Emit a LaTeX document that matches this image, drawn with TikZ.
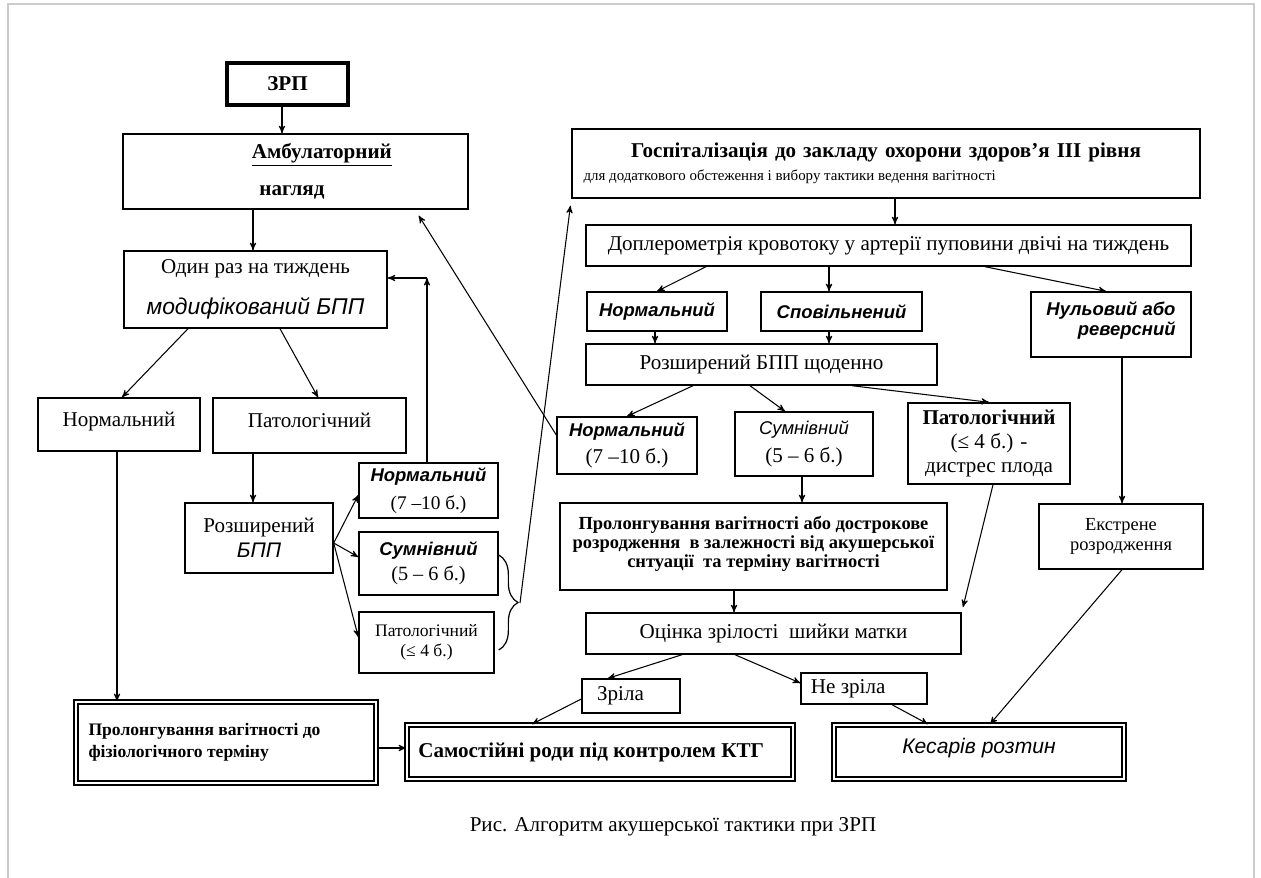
\documentclass[tikz,border=0pt]{standalone}
\usepackage{fontspec}
\setmainfont{Liberation Serif}
\setsansfont{Liberation Sans}
\usetikzlibrary{arrows, calc, decorations.pathreplacing}
\newcommand{\isans}{\sffamily\itshape}
\newcommand{\bisans}{\sffamily\bfseries\itshape}
\newcommand{\fsz}[2]{\fontsize{#1}{#2}\selectfont}
\tikzset{
>=stealth', % small filled arrow heads
box/.style={draw, line width=0.8pt, align=center, inner sep=2pt, font=\rmfamily\fsz{12}{14}}, % every plain box
dbox/.style={box, double, double distance=1.4pt, line width=1pt}, % boxes with a double frame
wh/.style 2 args={minimum width=#1*0.02cm, minimum height=#2*0.02cm}, % box size in pixels
conn/.style={->, line width=0.6pt}, % the connectors
}

\begin{document}
\begin{tikzpicture}[x=0.02cm, y=-0.02cm]
    \useasboundingbox (0,0) rectangle (1261,878);
    \draw[gray!40, line width=1.2pt] (8,878) -- (8,4) -- (1254,4) -- (1254,878);

    % left column
    \node[box, wh={121}{42}, line width=1.8pt, font=\rmfamily\bfseries\fsz{12}{14}] (zrp) at (287.5,84) {ЗРП};
    \node[box, wh={345}{75}, font=\rmfamily\bfseries\fsz{12}{14}] (amb) at (295.5,171.5)
        {\hspace*{30pt}\underline{Амбулаторний}\\[7pt]нагляд\hspace*{4pt}};
    \node[box, wh={263}{77}] (once) at (255.5,289.5)
        {Один раз на тиждень\\[9pt]{\isans\fsz{13}{15}модифікований БПП}};
    \node[box, wh={162}{53}] (normL) at (119,424.5) {Нормальний\\[-8pt]};
    \node[box, wh={193}{55}] (patL) at (309.5,425.5) {Патологічний\\[-8pt]};
    \node[box, wh={148}{70}] (rozL) at (259,538) {Розширений\\{\isans БПП}};
    \node[box, wh={139}{55}, font=\rmfamily\fsz{11}{13}] (n710L) at (428.5,490.5)
        {{\bisans\fsz{10.5}{12}Нормальний}\\[3pt](7 –10 б.)};
    \node[box, wh={139}{63}, font=\rmfamily\fsz{11.5}{13}] (sumL) at (428.5,563.5)
        {{\bisans\fsz{10.5}{12}Сумнівний}\\[1pt](5 – 6 б.)};
    \node[box, wh={135}{61}, font=\rmfamily\fsz{10}{11}] (pat4L) at (426.5,642.5) {Патологічний\\(≤ 4 б.)};
    \node[dbox, wh={300}{81}, text width=5.5cm, align=left, font=\rmfamily\bfseries\fsz{10}{12.5}] (prolL) at (226,742.5)
        {\spaceskip=0pt\xspaceskip=0pt Пролонгування вагітності до\\фізіологічного терміну};

    % right column
    \node[box, wh={628}{69}, text width=12.1cm, align=left] (hosp) at (886,163.5)
        {{\centering\bfseries Госпіталізація до закладу охорони здоров’я ІІІ рівня\par}
         \vspace{3pt}{\raggedright\fsz{8.5}{10}\spaceskip=0pt\xspaceskip=0pt
         для додаткового обстеження і вибору тактики ведення вагітності\par}};
    \node[box, wh={605}{41}] (dopl) at (888.5,245.5) {Доплерометрія кровотоку у артерії пуповини двічі на тиждень};
    \node[box, wh={140}{39}, font=\bisans\fsz{10.5}{12}] (normD) at (657,311.5) {Нормальний};
    \node[box, wh={161}{39}, font=\bisans\fsz{10.5}{12}] (spov) at (841.5,311.5) {Сповільнений};
    \node[box, wh={160}{65}, align=right, font=\bisans\fsz{10.5}{11.5}] (nul) at (1111,324.5)
        {Нульовий або\\реверсний\\[-4.7pt]};
    \node[box, wh={351}{41}] (rozD) at (761.5,364.5) {Розширений БПП щоденно};
    \node[box, wh={140}{57}] (n710R) at (627,445.5)
        {{\bisans\fsz{10.5}{12}Нормальний}\\[1pt](7 –10 б.)};
    \node[box, wh={138}{64}] (sumR) at (804,444)
        {{\isans\fsz{10.5}{12}Сумнівний}\\[2pt](5 – 6 б.)};
    \node[box, wh={162}{81}, font=\rmfamily\fsz{12}{13.5}] (patR) at (989,443.5)
        {{\bfseries Патологічний}\\(≤ 4 б.) -\\дистрес плода};
    \node[box, wh={164}{65}, font=\rmfamily\fsz{10.5}{11.5}] (ekstr) at (1121,536.5) {Екстрене\\розродження};
    \node[box, wh={387}{87}, font=\rmfamily\bfseries\fsz{10.5}{10.8}] (prolR) at (753.5,546.5)
        {Пролонгування вагітності або дострокове\\розродження\ \ в залежності від акушерської\\снтуації\ \ та терміну вагітності\\[-6pt]};
    \node[box, wh={375}{41}] (ocinka) at (773.5,633.5) {Оцінка зрілості\ \ шийки матки};
    \node[box, wh={98}{34}] (zrila) at (631,696) {Зріла\hspace*{12pt}};
    \node[box, wh={126}{31}] (nezrila) at (864,688.5) {Не зріла\hspace*{18pt}};

    % final boxes
    \node[dbox, wh={386}{54}, font=\rmfamily\bfseries\fsz{12}{14}] (samost) at (600,752) {Самостійні роди під контролем КТГ\hspace*{10pt}};
    \node[dbox, wh={290}{54}, font=\isans\fsz{12}{14}] (kesar) at (979,752) {Кесарів розтин\\[-7.2pt]};

    \node[font=\rmfamily\fsz{12}{14}] (cap) at (673,827) {Рис. Алгоритм акушерської тактики при ЗРП};

    % connectors, left part
    \draw[conn] (zrp.south -| 282,0) -- (amb.north -| 282,0);
    \draw[conn] (amb.south -| 253,0) -- (once.north -| 253,0);
    \draw[conn] (once.south -| 188,0) -- (normL.north -| 122,0);
    \draw[conn] (once.south -| 280,0) -- (patL.north -| 318,0);
    \draw[conn] (normL.south -| 117,0) -- (prolL.north -| 117,0);
    \draw[conn] (patL.south -| 253,0) -- (rozL.north -| 253,0);
    \draw[conn] (rozL.east |- 0,543) -- (n710L.west |- 0,495);
    \draw[conn] (rozL.east |- 0,543) -- (sumL.west |- 0,557);
    \draw[conn] (rozL.east |- 0,543) -- (pat4L.west |- 0,637);
    \coordinate (cup) at (427,278);
    \draw[conn] (n710L.north -| 427,0) -- (cup);
    \draw[conn] (cup) -- (once.east |- cup);
    \draw[line width=0.7pt, decorate, decoration={brace, amplitude=11pt}]
        ($(sumL.east)+(0,-8.5)$) -- ($(pat4L.east)+(4,7.5)$);
    \coordinate (brtip) at (520,603);
    \draw[conn, shorten >=4pt] (brtip) -- (hosp.south west);
    \draw[conn, shorten >=4pt] (n710R.west |- 0,435) -- (amb.south -| 415,0);
    \draw[conn] (prolL.east |- 0,748) -- (samost.west |- 0,748);

    % connectors, right part
    \draw[conn] (hosp.south -| 895,0) -- (dopl.north -| 895,0);
    \draw[conn] (dopl.south -| 706,0) -- (normD.north -| 657,0);
    \draw[conn] (dopl.south -| 829,0) -- (spov.north -| 829,0);
    \draw[conn] (dopl.south -| 985,0) -- (nul.north -| 1106,0);
    \draw[conn] (normD.south -| 655,0) -- (rozD.north -| 655,0);
    \draw[conn] (spov.south -| 829,0) -- (rozD.north -| 829,0);
    \draw[conn] (rozD.south -| 693,0) -- (n710R.north -| 627,0);
    \draw[conn] (rozD.south -| 750,0) -- (sumR.north -| 785,0);
    \draw[conn] (rozD.south -| 852,0) -- (patR.north -| 989,0);
    \draw[conn] (nul.south -| 1122,0) -- (ekstr.north -| 1122,0);
    \draw[conn] (sumR.south -| 802,0) -- (prolR.north -| 802,0);
    \draw[conn] (prolR.south -| 734,0) -- (ocinka.north -| 734,0);
    \draw[conn, shorten >=3pt] (patR.south -| 993,0) -- (ocinka.north east);
    \draw[conn] (ocinka.south -| 682,0) -- (zrila.north -| 608,0);
    \draw[conn] (ocinka.south -| 735,0) -- (nezrila.west |- 0,683);
    \draw[conn] (zrila.west |- 0,699) -- (samost.north -| 532,0);
    \draw[conn] (nezrila.south -| 892,0) -- (kesar.north -| 928,0);
    \draw[conn] (ekstr.south -| 1122,0) -- (kesar.north -| 990,0);
\end{tikzpicture}
\end{document}
